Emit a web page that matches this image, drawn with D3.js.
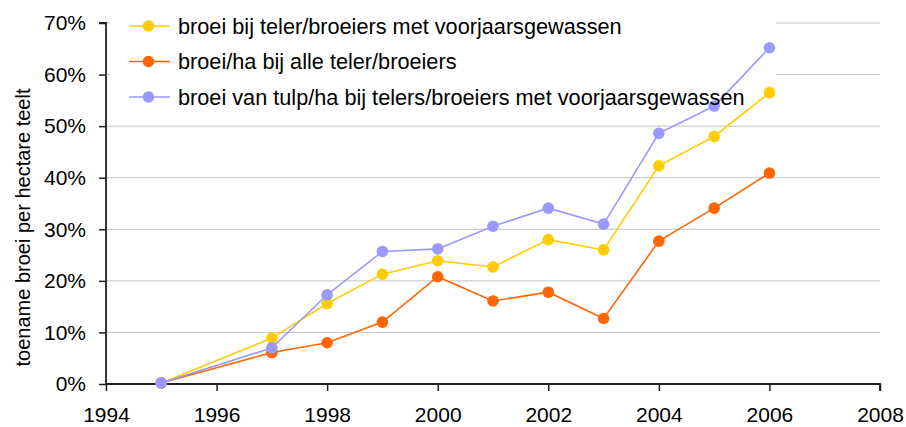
<!DOCTYPE html>
<html>
<head>
<meta charset="utf-8">
<script src="https://cdn.jsdelivr.net/npm/d3@7"></script>
<style>
  body { margin: 0; background: #fff; }
  text { font-family: "Liberation Sans", Arial, sans-serif; fill: #000; }
</style>
</head>
<body>
<svg width="906" height="427"></svg>
<script>
const svg = d3.select('svg');

const years = [1995, 1997, 1998, 1999, 2000, 2001, 2002, 2003, 2004, 2005, 2006];
const yellowVals = [0.2, 8.9, 15.6, 21.3, 23.9, 22.7, 28.0, 26.0, 42.3, 48.0, 56.5];
const orangeVals = [0.2, 6.1, 8.0, 12.0, 20.8, 16.1, 17.8, 12.7, 27.7, 34.1, 40.9];
const blueVals = [0.2, 7.0, 17.3, 25.7, 26.2, 30.6, 34.1, 31.0, 48.6, 53.9, 65.2];

const seriesNames = [
    'broei bij teler/broeiers met voorjaarsgewassen',
    'broei/ha bij alle teler/broeiers',
    'broei van tulp/ha bij telers/broeiers met voorjaarsgewassen'
];
const xTicks = [1994, 1996, 1998, 2000, 2002, 2004, 2006, 2008];
const yTicks = [0, 10, 20, 30, 40, 50, 60, 70];
const yTitle = 'toename broei per hectare teelt';

const colors = ['#FFCC00', '#FF6600', '#9999FF'];

const series = [yellowVals, orangeVals, blueVals].map((vals, i) => ({
    name: seriesNames[i],
    color: colors[i],
    values: years.map((y, j) => ({ year: y, v: vals[j] }))
}));

const plot = { left: 106, right: 880, top: 23, bottom: 384 };

const x = d3.scaleLinear().domain([1994, 2008]).range([plot.left, plot.right]);
const y = d3.scaleLinear().domain([0, 70]).range([plot.bottom, plot.top]);

// gridlines
svg.append('g')
    .selectAll('line')
    .data(yTicks.filter(d => d > 0))
    .enter().append('line')
    .attr('x1', plot.left).attr('x2', plot.right)
    .attr('y1', d => y(d)).attr('y2', d => y(d))
    .attr('stroke', '#c4c4c4')
    .attr('stroke-width', 1);

// legend background hides the upper gridlines
svg.append('rect')
    .attr('x', plot.left + 4).attr('y', 4)
    .attr('width', 666).attr('height', 110)
    .attr('fill', '#fff');

// axes
const axisY = d3.axisLeft(y).tickValues(yTicks).tickSize(7).tickPadding(13)
    .tickFormat(d => d + '%');
const axisX = d3.axisBottom(x).tickValues(xTicks).tickSize(7).tickPadding(16)
    .tickFormat(d3.format('d'));

const gy = svg.append('g').attr('transform', `translate(${plot.left},0)`).call(axisY);
const gx = svg.append('g').attr('transform', `translate(0,${plot.bottom})`).call(axisX);

[gx, gy].forEach(g => {
    g.select('.domain').attr('stroke', '#222').attr('stroke-width', 1.8);
    g.selectAll('.tick line').attr('stroke', '#222').attr('stroke-width', 1.5);
    g.selectAll('.tick text')
        .attr('font-size', 21)
        .attr('font-family', '"Liberation Sans", Arial, sans-serif')
        .attr('fill', '#000');
});
gy.select('.domain').attr('d', `M-7,${plot.top}H0V${plot.bottom}`);
gx.select('.domain').attr('d', `M${plot.left},0H${plot.right}V7`);

// y title
svg.append('text')
    .attr('transform', `translate(30,${(plot.top + plot.bottom) / 2 + 24}) rotate(-90)`)
    .attr('text-anchor', 'middle')
    .attr('font-size', 20)
    .text(yTitle);

// series
const line = d3.line().x(d => x(d.year)).y(d => y(d.v));

const sg = svg.selectAll('.series').data(series).enter()
    .append('g').attr('class', 'series');

sg.append('path')
    .attr('d', d => line(d.values))
    .attr('fill', 'none')
    .attr('stroke', d => d.color)
    .attr('stroke-width', 1.6);

sg.selectAll('circle').data(d => d.values.map(p => ({ ...p, color: d.color })))
    .enter().append('circle')
    .attr('cx', d => x(d.year))
    .attr('cy', d => y(d.v))
    .attr('r', 5.8)
    .attr('fill', d => d.color);

// legend
const lg = svg.selectAll('.legend').data(series).enter()
    .append('g').attr('class', 'legend')
    .attr('transform', (d, i) => `translate(129,${26 + i * 35.5})`);

lg.append('line')
    .attr('x1', 0).attr('x2', 41)
    .attr('stroke', d => d.color).attr('stroke-width', 1.6);
lg.append('circle')
    .attr('cx', 19.5).attr('r', 5.8)
    .attr('fill', d => d.color);
lg.append('text')
    .attr('x', 49).attr('dy', '0.36em')
    .attr('font-size', 21.7)
    .text(d => d.name);
</script>
</body>
</html>
